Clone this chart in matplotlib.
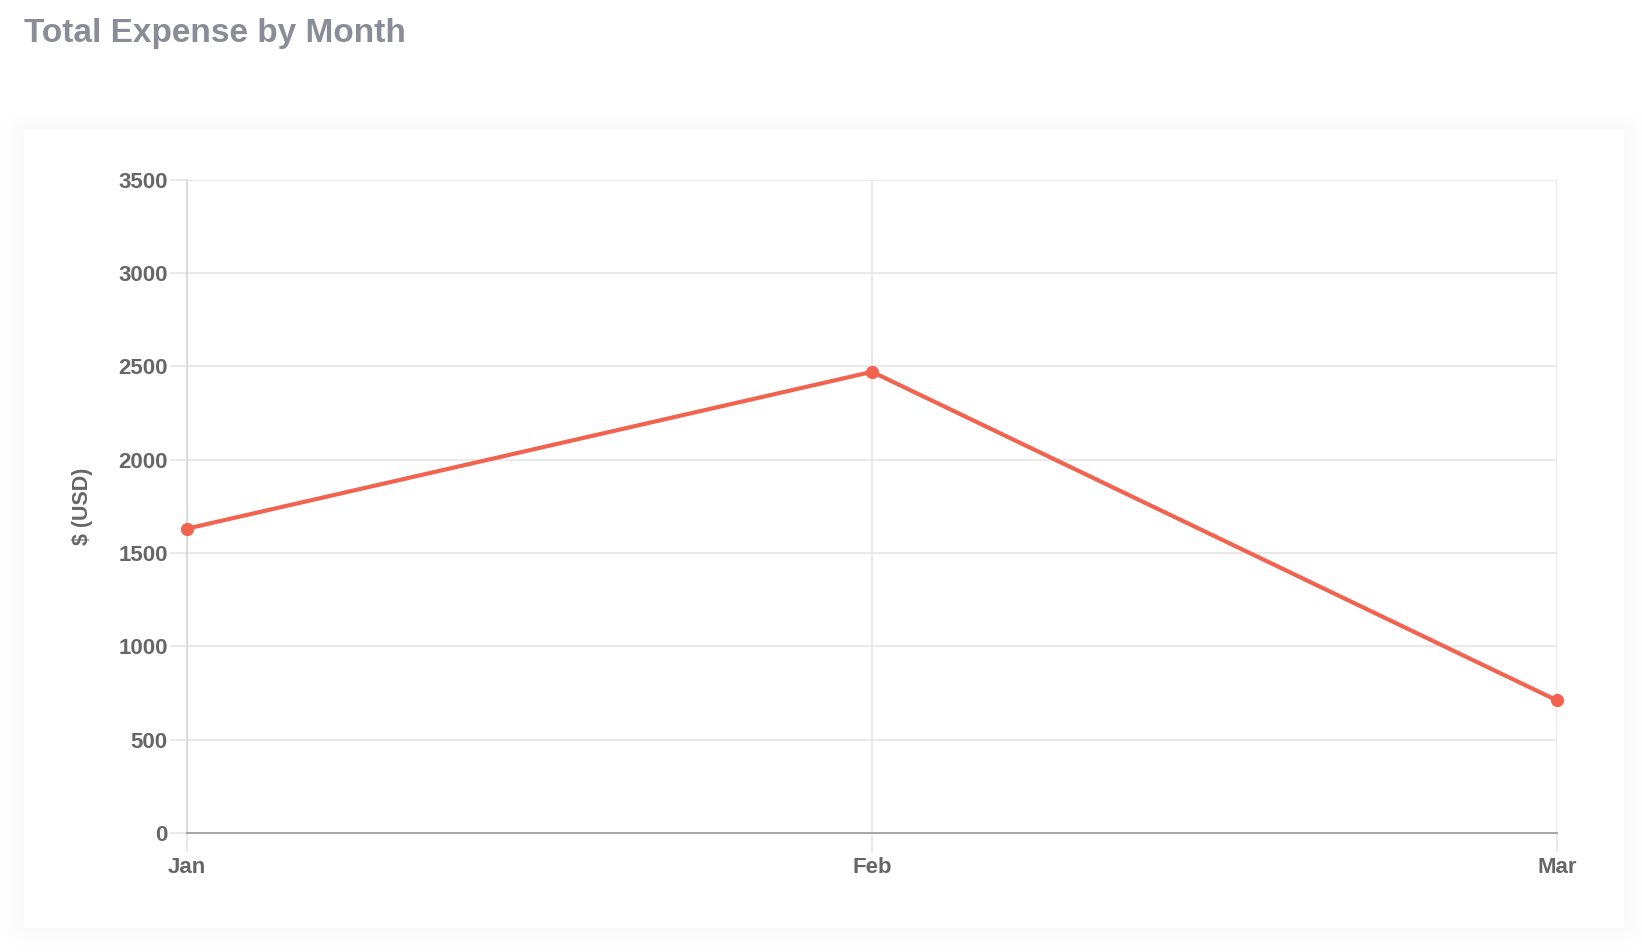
import matplotlib.pyplot as plt
from matplotlib.patches import FancyBboxPatch

# dane
months = ["Jan", "Feb", "Mar"]
expense = [1630, 2470, 710]
y_ticks = [0, 500, 1000, 1500, 2000, 2500, 3000, 3500]

plt.rcParams["font.family"] = ["Liberation Sans", "DejaVu Sans"]

W, H = 1642, 952
fig = plt.figure(figsize=(W / 100, H / 100), dpi=100)
fig.patch.set_facecolor("white")

# karta z delikatnym cieniem
x0, y0, x1, y1 = 24, 129, 1624, 928
for i in range(6):
    d = 18 - i * 3
    fig.patches.append(FancyBboxPatch(
        ((x0 - d) / W, 1 - (y1 + d) / H), (x1 - x0 + 2 * d) / W, (y1 - y0 + 2 * d) / H,
        boxstyle="round,pad=0,rounding_size=0.01", transform=fig.transFigure,
        facecolor="black", edgecolor="none", alpha=0.005, zorder=0))
fig.patches.append(plt.Rectangle(
    (x0 / W, 1 - y1 / H), (x1 - x0) / W, (y1 - y0) / H,
    transform=fig.transFigure, facecolor="white", edgecolor="none", zorder=1))

fig.text(24 / W, 1 - 42 / H, "Total Expense by Month", fontsize=24,
         fontweight="bold", color="#8a8c98", ha="left", va="baseline")

left, right, top, bottom = 187, 1557, 179.5, 833
ax = fig.add_axes([left / W, 1 - bottom / H, (right - left) / W, (bottom - top) / H])
ax.set_facecolor("none")
ax.set_zorder(2)

xs = list(range(len(months)))
ax.plot(xs, expense, color="#f2634f", lw=3.0, marker="o", ms=8.5,
        clip_on=False, zorder=5, solid_joinstyle="round")

ax.set_xlim(0, len(months) - 1)
ax.set_ylim(0, 3500)
ax.set_xticks(xs)
ax.set_xticklabels(months)
ax.set_yticks(y_ticks)
ax.set_yticklabels([str(v) for v in y_ticks])

ax.grid(True, color="#e3e3e3", lw=1.1)
ax.set_axisbelow(True)
for s in ["top", "right"]:
    ax.spines[s].set_visible(False)
ax.spines["left"].set_color("#d3d3d3")
ax.spines["left"].set_linewidth(1.1)
ax.spines["bottom"].set_color("#a0a0a0")
ax.spines["bottom"].set_linewidth(1.3)

ax.tick_params(axis="y", length=12.3, width=1.1, color="#e3e3e3",
               labelsize=16, labelcolor="#666666", pad=1.5)
ax.tick_params(axis="x", length=13.5, width=1.1, color="#e3e3e3",
               labelsize=16, labelcolor="#666666", pad=4)
for lab in ax.get_xticklabels() + ax.get_yticklabels():
    lab.set_fontweight("bold")

ax.set_ylabel("$ (USD)", fontsize=15.5, fontweight="bold", color="#666666",
              labelpad=18)

fig.savefig("out.png", dpi=100, facecolor="white")
